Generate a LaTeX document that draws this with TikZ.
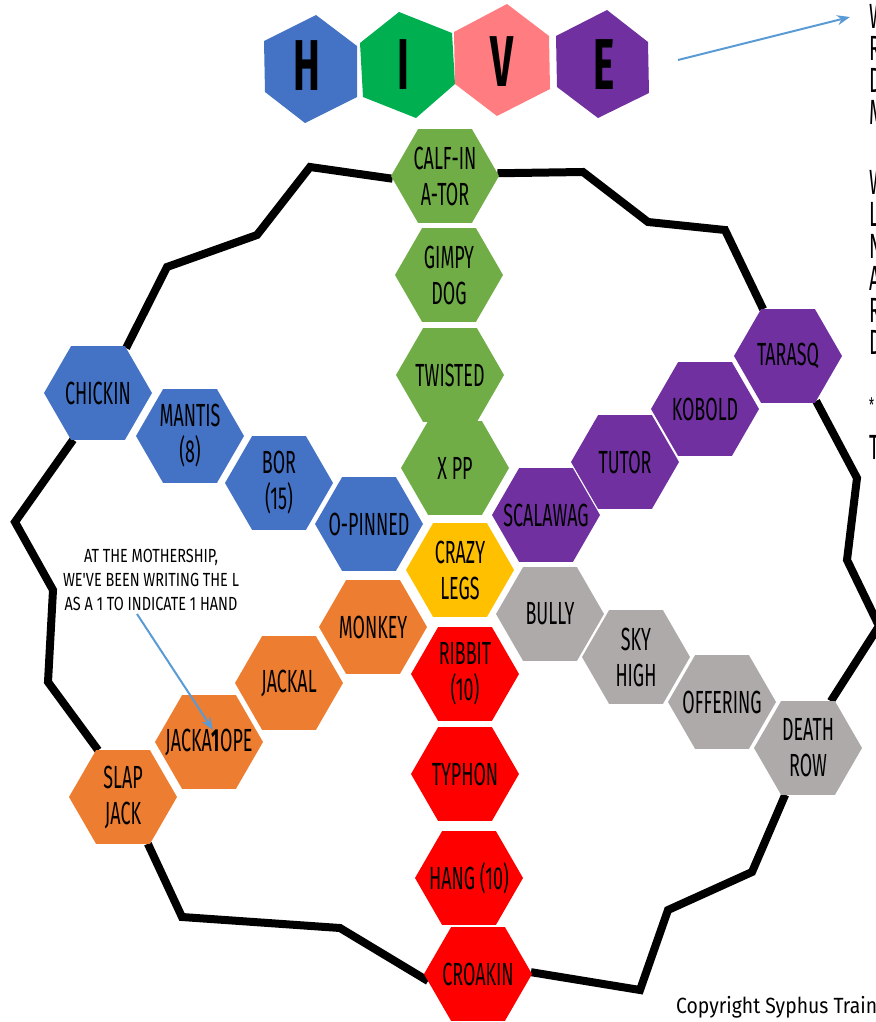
\documentclass[tikz,border=0pt]{standalone}
\usepackage{fontspec}
\usepackage{tikz}
\usetikzlibrary{shapes.geometric,arrows.meta,backgrounds}
\newfontfamily\hivefont{Fira Sans}[FakeStretch=0.56]
\newfontfamily\notefont{Fira Sans}[FakeStretch=0.76]
\newfontfamily\copyfont{Fira Sans}[FakeStretch=0.88]
\definecolor{hiveblue}{HTML}{4472C4}
\definecolor{titlegreen}{HTML}{00B050}
\definecolor{titlepink}{HTML}{FF7C80}
\definecolor{hivepurple}{HTML}{7030A0}
\definecolor{hexgreen}{HTML}{70AD47}
\definecolor{hexyellow}{HTML}{FFC000}
\definecolor{hexgray}{HTML}{AEAAAA}
\definecolor{hexred}{HTML}{FF0000}
\definecolor{hexorange}{HTML}{ED7D31}
\definecolor{pointerblue}{HTML}{5B9BD5}
\tikzset{
  hexcell/.style={regular polygon, regular polygon sides=6, minimum size=108pt, inner sep=0pt, outer sep=0pt},
  hexname/.style={font=\hivefont\fontsize{32}{36}\selectfont, align=center, inner sep=0pt},
  titleletter/.style={font=\hivefont\bfseries\fontsize{72}{72}\selectfont, inner sep=0pt},
  notetext/.style={font=\notefont\fontsize{19}{24}\selectfont, align=center, inner sep=0pt},
  sidetext/.style={font=\hivefont\fontsize{35}{35}\selectfont, inner sep=0pt},
  copytext/.style={font=\copyfont\fontsize{22}{22}\selectfont, inner sep=0pt},
  rim/.style={line width=8pt, black},
  pointer/.style={line width=2pt, pointerblue, -{Stealth[length=13pt,width=10pt]}}
}
\begin{document}
\begin{tikzpicture}[x={(1pt,0pt)},y={(0pt,-1pt)}]
\useasboundingbox (0,0) rectangle (875,1022);
% title tiles
\fill[hiveblue] (316,15) -- (357,46) -- (357,97) -- (305,123) -- (265,92) -- (264,41) -- cycle;
\fill[titlegreen] (399,12) -- (452,33) -- (455,84) -- (416,118) -- (363,97) -- (360,43) -- cycle;
\fill[titlepink] (507,4) -- (549,36) -- (550,89) -- (497,116) -- (455,84) -- (454,32) -- cycle;
\fill[hivepurple] (607,10) -- (648,42) -- (649,93) -- (598,118) -- (557,87) -- (556,36) -- cycle;
\node[titleletter] (t-h) at (307,66) {H};
\node[titleletter] (t-i) at (403,65) {I};
\node[titleletter] (t-v) at (502,62) {V};
\node[titleletter] (t-e) at (604,65) {E};
% green arm
\node[hexcell,fill=hexgreen,label={[hexname]center:{CALF-IN\\A-TOR}}] (calf) at (445,176) {};
\node[hexcell,fill=hexgreen,label={[hexname]center:{GIMPY\\DOG}}] (gimpy) at (449,275) {};
\node[hexcell,fill=hexgreen,label={[hexname]center:TWISTED}] (twisted) at (450,375) {};
\node[hexcell,fill=hexgreen,label={[hexname]center:X PP}] (xpp) at (455,468) {};
% blue arm
\node[hexcell,fill=hiveblue,label={[hexname]center:CHICKIN}] (chickin) at (98,393) {};
\node[hexcell,fill=hiveblue,label={[hexname]center:{MANTIS\\(8)}}] (mantis) at (190,436) {};
\node[hexcell,fill=hiveblue,label={[hexname]center:{BOR\\(15)}}] (bor) at (279,483) {};
\node[hexcell,fill=hiveblue,label={[hexname]center:O-PINNED}] (opinned) at (369,524) {};
% centre
\node[hexcell,fill=hexyellow,label={[hexname]center:{CRAZY\\LEGS}}] (crazy) at (460,570) {};
% purple arm
\node[hexcell,fill=hivepurple,label={[hexname]center:SCALAWAG}] (scalawag) at (546,515) {};
\node[hexcell,fill=hivepurple,label={[hexname]center:TUTOR}] (tutor) at (625,462) {};
\node[hexcell,fill=hivepurple,label={[hexname]center:KOBOLD}] (kobold) at (705,409) {};
\node[hexcell,fill=hivepurple,label={[hexname]center:TARASQ}] (tarasq) at (788,356) {};
% gray arm
\node[hexcell,fill=hexgray,label={[hexname]center:BULLY}] (bully) at (550,614) {};
\node[hexcell,fill=hexgray,label={[hexname]center:{SKY\\HIGH}}] (skyhigh) at (636,657) {};
\node[hexcell,fill=hexgray,label={[hexname]center:OFFERING}] (offering) at (722,702) {};
\node[hexcell,fill=hexgray,label={[hexname]center:{DEATH\\ROW}}] (deathrow) at (808,748) {};
% red arm
\node[hexcell,fill=hexred,label={[hexname]center:{RIBBIT\\(10)}}] (ribbit) at (465,674) {};
\node[hexcell,fill=hexred,label={[hexname]center:TYPHON}] (typhon) at (465,774) {};
\node[hexcell,fill=hexred,label={[hexname]center:HANG (10)}] (hang) at (469,878) {};
\node[hexcell,fill=hexred,label={[hexname]center:CROAKIN}] (croakin) at (478,974) {};
% orange arm
\node[hexcell,fill=hexorange,label={[hexname]center:MONKEY}] (monkey) at (373,627) {};
\node[hexcell,fill=hexorange,label={[hexname]center:JACKAL}] (jackal) at (289,683) {};
\node[hexcell,fill=hexorange,label={[hexname]center:{JACKA\textbf{1}OPE}}] (jackalope) at (209,742) {};
\node[hexcell,fill=hexorange,label={[hexname]center:{SLAP\\JACK}}] (slapjack) at (123,797) {};
% outer rim
\begin{scope}[on background layer]
\draw[rim] (calf.183) -- (310,167) -- (257,235) -- (167,267) -- (chickin.58);
\draw[rim] (calf.3) -- (583,172) -- (648,222) -- (725,230) -- (tarasq.118);
\draw[rim] (tarasq.-58) -- (857,478) -- (847,560) -- (879,626) -- (deathrow.64);
\draw[rim] (deathrow.-116) -- (752,872) -- (668,910) -- (640,990) -- (croakin.2);
\draw[rim] (croakin.188) -- (340,928) -- (182,917) -- (slapjack.-62);
\draw[rim] (slapjack.118) -- (48,682) -- (53,590) -- (15,522) -- (chickin.-118);
\end{scope}
% note
\node[notetext] (note) at (151,580) {AT THE MOTHERSHIP,\\WE'VE BEEN WRITING THE L\\AS A 1 TO INDICATE 1 HAND};
\draw[pointer] ([xshift=-14pt,yshift=-3pt]note.south) -- ([xshift=4pt,yshift=12pt]jackalope.center);
% pointer to the side text
\coordinate (titletail) at (678,60);
\coordinate (titlehead) at (850,17);
\draw[pointer] (titletail) -- (titlehead);
\foreach \ltr/\yy [count=\k] in {W/16,R/48,D/80,M/112,W/182,L/214,N/246,A/278,R/310,D/342,T/447}
  \node[sidetext,anchor=west] (side\k) at (869,\yy) {\ltr};
\node[sidetext,anchor=west,font=\hivefont\fontsize{20}{20}\selectfont] (star) at (869,405) {*};
\node[copytext,anchor=south west] (copyright) at (676,1018) {Copyright Syphus Train};
\end{tikzpicture}
\end{document}
